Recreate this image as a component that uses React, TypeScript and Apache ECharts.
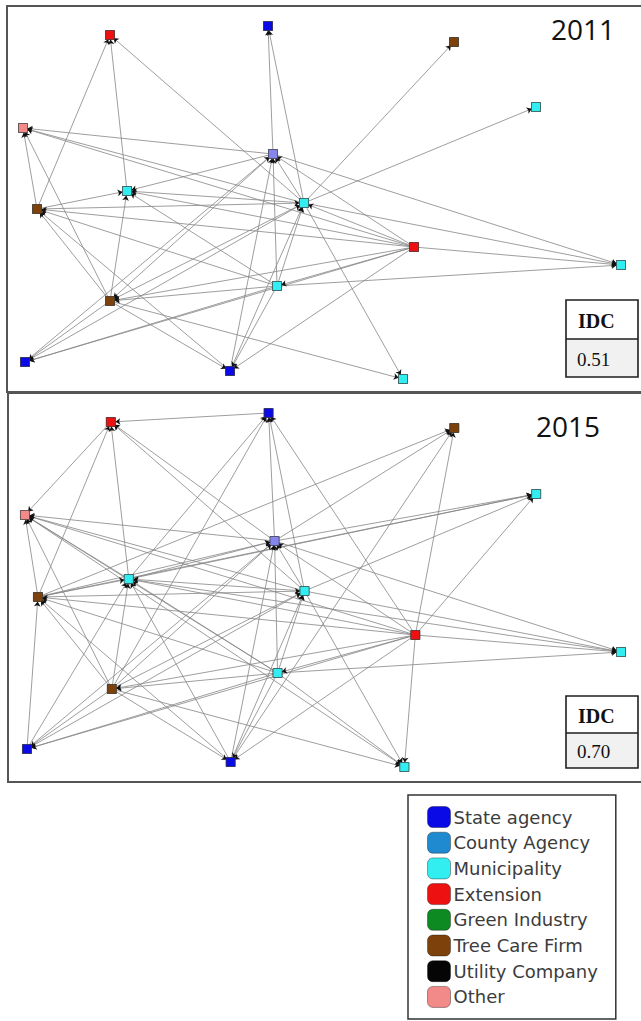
import React, { useEffect, useRef } from "react";
import * as echarts from "echarts";

// ---- data ----
const CATEGORIES = [
  "State agency",
  "County Agency",
  "Municipality",
  "Extension",
  "Green Industry",
  "Tree Care Firm",
  "Utility Company",
  "Other",
  "Unclassified",
];
const CATEGORY_COLORS = [
  "#0a0ae6",
  "#1f8ad0",
  "#33eef0",
  "#ee1111",
  "#0d8a22",
  "#7d420c",
  "#050505",
  "#f28a8a",
  "#8585ee",
];
const LEGEND_NAMES = CATEGORIES.slice(0, 8);

const NODE_IDS = ["A", "B", "C", "D", "E", "F", "G", "H", "I", "J", "K", "L", "M", "N", "O", "P"];
const NODE_CATEGORY = [3, 0, 5, 2, 7, 8, 2, 2, 5, 3, 2, 2, 5, 0, 0, 2];

// node layout positions inside each panel (frame-relative units, y downward)
const X_2011 = [103, 261, 447, 529, 16, 266, 120, 297, 30, 407, 614, 270, 103, 18, 223, 396];
const Y_2011 = [29, 20, 36, 101, 122, 148, 185, 197, 203, 241, 259, 280, 295, 356, 365, 373];
const X_2015 = [103, 261, 447, 529, 17, 267, 121, 297, 30, 408, 614, 270, 104, 19, 223, 397];
const Y_2015 = [29, 20, 35, 101, 122, 148, 186, 198, 204, 242, 259, 280, 296, 356, 369, 374];

const EDGES_2011: [string, string][] = [
  ["I", "A"], ["G", "A"], ["H", "A"], ["F", "B"], ["H", "B"], ["H", "C"], ["H", "D"],
  ["F", "E"], ["H", "E"], ["J", "E"], ["I", "E"], ["M", "E"],
  ["H", "F"], ["J", "F"], ["L", "F"], ["O", "F"], ["N", "F"], ["F", "K"], ["F", "G"], ["F", "M"],
  ["I", "G"], ["H", "G"], ["J", "G"], ["M", "G"], ["L", "G"],
  ["I", "H"], ["J", "H"], ["L", "H"], ["N", "H"], ["O", "H"], ["H", "M"], ["H", "P"], ["H", "K"],
  ["J", "I"], ["L", "I"], ["M", "I"], ["O", "I"],
  ["J", "L"], ["J", "M"], ["J", "N"], ["J", "O"], ["J", "K"], ["L", "K"],
  ["M", "N"], ["L", "M"], ["M", "P"], ["M", "O"],
  ["L", "N"], ["L", "O"],
];

const EDGES_2015: [string, string][] = [
  ["B", "A"], ["A", "E"], ["I", "A"], ["G", "A"], ["F", "A"], ["H", "A"],
  ["G", "B"], ["M", "B"], ["F", "B"], ["H", "B"], ["J", "B"],
  ["I", "C"], ["F", "C"], ["J", "C"], ["O", "C"],
  ["F", "D"], ["G", "D"], ["I", "D"], ["H", "D"], ["J", "D"],
  ["F", "E"], ["H", "E"], ["J", "E"], ["I", "E"], ["M", "E"], ["G", "E"], ["L", "E"],
  ["G", "F"], ["M", "F"], ["O", "F"], ["L", "F"], ["H", "F"], ["J", "F"], ["F", "K"], ["N", "F"], ["I", "F"],
  ["I", "G"], ["H", "G"], ["J", "G"], ["M", "G"], ["L", "G"], ["N", "G"], ["O", "G"],
  ["I", "H"], ["M", "H"], ["N", "H"], ["L", "H"], ["O", "H"], ["H", "P"], ["H", "K"],
  ["J", "I"], ["L", "I"], ["M", "I"], ["N", "I"], ["O", "I"],
  ["J", "L"], ["J", "M"], ["J", "N"], ["J", "O"], ["J", "P"], ["J", "K"],
  ["L", "K"], ["G", "K"],
  ["M", "N"], ["L", "M"], ["M", "P"], ["M", "O"],
  ["L", "N"], ["L", "O"], ["L", "P"], ["E", "P"],
];

const PANEL_TITLES = ["2011", "2015"];
const IDC_VALUES = ["0.51", "0.70"];

// ---- layout constants ----
const PANEL_W = 634;
const PANEL_H = 386;
const PANELS = [
  { left: 7, top: 6, frameH: 386 },
  { left: 8, top: 393, frameH: 389 },
];

function buildNodes(xs: number[], ys: number[]) {
  return NODE_IDS.map((id, i) => ({
    name: id,
    value: [xs[i], ys[i]],
    category: NODE_CATEGORY[i],
  }));
}
function buildLinks(edges: [string, string][]) {
  return edges.map(([s, t]) => ({ source: s, target: t }));
}

function graphSeries(
  idx: number,
  xs: number[],
  ys: number[],
  edges: [string, string][],
  arrowsOnly: boolean
) {
  return {
    type: "graph",
    layout: "none",
    coordinateSystem: "cartesian2d",
    xAxisIndex: idx,
    yAxisIndex: idx,
    symbol: "rect",
    symbolSize: 9,
    categories: CATEGORIES.map((name, i) => ({
      name,
      itemStyle: { color: CATEGORY_COLORS[i] },
    })),
    data: buildNodes(xs, ys),
    links: buildLinks(edges),
    edgeSymbol: arrowsOnly ? ["none", "arrow"] : ["none", "none"],
    edgeSymbolSize: [0, 5],
    lineStyle: arrowsOnly
      ? { color: "#111111", width: 0.01, opacity: 1, curveness: 0 }
      : { color: "#858585", width: 0.8, opacity: 1, curveness: 0 },
    itemStyle: { borderColor: "#3a3a3a", borderWidth: 0.6 },
    label: { show: false },
    emphasis: { disabled: true },
    silent: true,
    z: arrowsOnly ? 4 : 3,
  };
}

function idcBox(x: number, y: number, h1: number, h2: number, value: string) {
  return {
    type: "group",
    x,
    y,
    z: 50,
    children: [
      { type: "rect", shape: { x: 0, y: 0, width: 72, height: h1 + h2 }, style: { fill: "#ffffff", stroke: "none" } },
      { type: "rect", shape: { x: 0, y: h1, width: 72, height: h2 }, style: { fill: "#f1f1f1", stroke: "none" } },
      { type: "rect", shape: { x: 0, y: 0, width: 72, height: h1 + h2 }, style: { fill: "none", stroke: "#1e1e1e", lineWidth: 1.6 } },
      { type: "line", shape: { x1: 0, y1: h1, x2: 72, y2: h1 }, style: { stroke: "#1e1e1e", lineWidth: 1.4 } },
      {
        type: "text",
        x: 12,
        y: h1 / 2 + 1,
        style: { text: "IDC", font: 'bold 20px "Liberation Serif"', fill: "#111", verticalAlign: "middle", align: "left" },
      },
      {
        type: "text",
        x: 11,
        y: h1 + h2 / 2 + 1,
        style: { text: value, font: '19px "Liberation Serif"', fill: "#111", verticalAlign: "middle", align: "left" },
      },
    ],
  };
}

export default function App() {
  const ref = useRef<HTMLDivElement>(null);
  useEffect(() => {
    if (!ref.current) return;
    const chart = echarts.init(ref.current, undefined, { renderer: "svg" });
    const option = {
      animation: false,
      backgroundColor: "#ffffff",
      grid: PANELS.map((p) => ({ left: p.left, top: p.top, width: PANEL_W, height: PANEL_H, containLabel: false })),
      xAxis: PANELS.map((_, i) => ({ gridIndex: i, type: "value", min: 0, max: PANEL_W, show: false })),
      yAxis: PANELS.map((_, i) => ({ gridIndex: i, type: "value", min: 0, max: PANEL_H, inverse: true, show: false })),
      legend: {
        data: LEGEND_NAMES,
        orient: "vertical",
        left: 408,
        top: 795,
        height: 203,
        padding: [11, 18, 11, 19],
        itemGap: 3.7,
        itemWidth: 23,
        itemHeight: 21,
        icon: "roundRect",
        selectedMode: false,
        borderColor: "#333",
        borderWidth: 1.5,
        backgroundColor: "#fff",
        itemStyle: { borderColor: "rgba(0,0,0,0.35)", borderWidth: 1 },
        textStyle: {
          fontFamily: '"DejaVu Sans"',
          fontSize: 18,
          lineHeight: 21,
          color: "#3c3c3c",
          padding: [0, 0, 0, -2],
        },
      },
      graphic: [
        ...PANELS.map((p) => ({
          type: "rect",
          z: 1,
          shape: { x: p.left, y: p.top, width: 660, height: p.frameH },
          style: { fill: "none", stroke: "#555", lineWidth: 2 },
        })),
        {
          type: "text",
          x: 551,
          y: 29,
          z: 50,
          style: { text: PANEL_TITLES[0], font: '28px "Open Sans"', fill: "#111", verticalAlign: "middle" },
        },
        {
          type: "text",
          x: 536,
          y: 426,
          z: 50,
          style: { text: PANEL_TITLES[1], font: '28px "Open Sans"', fill: "#111", verticalAlign: "middle" },
        },
        idcBox(566, 300, 39, 38, IDC_VALUES[0]),
        idcBox(566, 696, 37, 35, IDC_VALUES[1]),
      ],
      series: [
        graphSeries(0, X_2011, Y_2011, EDGES_2011, false),
        graphSeries(0, X_2011, Y_2011, EDGES_2011, true),
        graphSeries(1, X_2015, Y_2015, EDGES_2015, false),
        graphSeries(1, X_2015, Y_2015, EDGES_2015, true),
      ],
    };
    chart.setOption(option as any);
    return () => chart.dispose();
  }, []);
  return (
    <div
      ref={ref}
      style={{ position: "absolute", left: 0, top: 0, width: 641, height: 1021, background: "#fff" }}
    />
  );
}
